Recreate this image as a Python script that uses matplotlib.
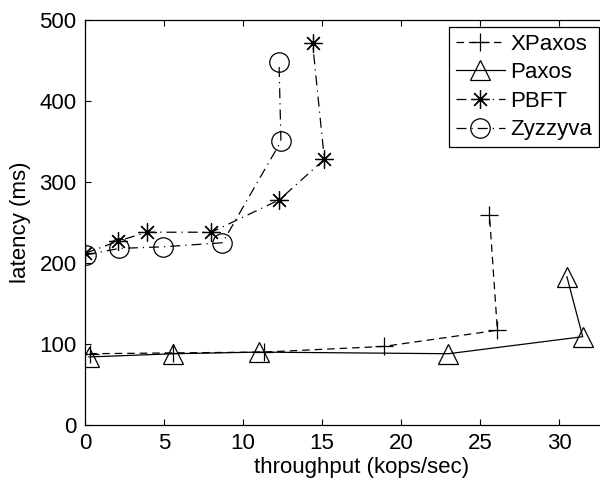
import matplotlib
matplotlib.use("Agg")
from matplotlib import pyplot as plt

plt.rcParams["font.family"] = ["Liberation Sans", "DejaVu Sans"]
plt.rcParams["font.size"] = 16

# throughput (kops/sec) and latency (ms) per protocol
xpaxos_x = [0.3, 5.6, 11.3, 18.9, 26.1, 25.6]
xpaxos_y = [88, 89, 90, 97, 117, 259]
paxos_x = [0.25, 5.6, 11.0, 23.0, 31.5, 30.5]
paxos_y = [84, 88, 90, 88, 109, 183]
pbft_x = [0.0, 2.1, 3.9, 8.0, 12.3, 15.15, 14.4]
pbft_y = [212, 227, 238, 238, 278, 328, 472]
zyzzyva_x = [0.06, 2.17, 4.96, 8.7, 12.4, 12.28]
zyzzyva_y = [210, 218, 220, 225, 350, 448]

fig = plt.figure(figsize=(6.0, 4.86), dpi=100)
ax = fig.add_axes([85 / 600, 61 / 486, 35 * 15.8 / 600, 405 / 486])

lw = 0.9
ax.plot(xpaxos_x, xpaxos_y, "--", color="black", lw=lw, marker="+",
        ms=13, mew=0.9, label="XPaxos", dashes=(6, 4))
ax.plot(paxos_x, paxos_y, "-", color="black", lw=lw, marker="^",
        ms=15, mew=0.9, mfc="none", label="Paxos")
ax.plot(pbft_x, pbft_y, "-.", color="black", lw=lw, marker=(8, 2, 0),
        ms=13, mew=0.9, label="PBFT", dashes=(8, 4, 1, 4))
ax.plot(zyzzyva_x, zyzzyva_y, "-.", color="black", lw=lw, marker="o",
        ms=14, mew=0.9, mfc="none", label="Zyzzyva", dashes=(8, 4, 1, 4))

ax.set_xlim(0, 35)
ax.set_ylim(0, 500)
ax.set_xticks([0, 5, 10, 15, 20, 25, 30])
ax.set_yticks([0, 100, 200, 300, 400, 500])
ax.tick_params(direction="in", top=True, right=True, length=4, width=0.8,
               pad=6)
for s in ax.spines.values():
    s.set_linewidth(0.9)

ax.set_xlabel("throughput (kops/sec)", labelpad=2)
ax.set_ylabel("latency (ms)", labelpad=6)

leg = ax.legend(loc="upper left", bbox_to_anchor=(449 / 600, 1 - 27 / 486),
                bbox_transform=fig.transFigure, frameon=True, fancybox=False,
                edgecolor="black", framealpha=1, handlelength=2.2,
                borderpad=0.3, labelspacing=0.34, handletextpad=0.25,
                borderaxespad=0)
leg.get_frame().set_linewidth(0.9)

fig.savefig("out.png", dpi=100)
